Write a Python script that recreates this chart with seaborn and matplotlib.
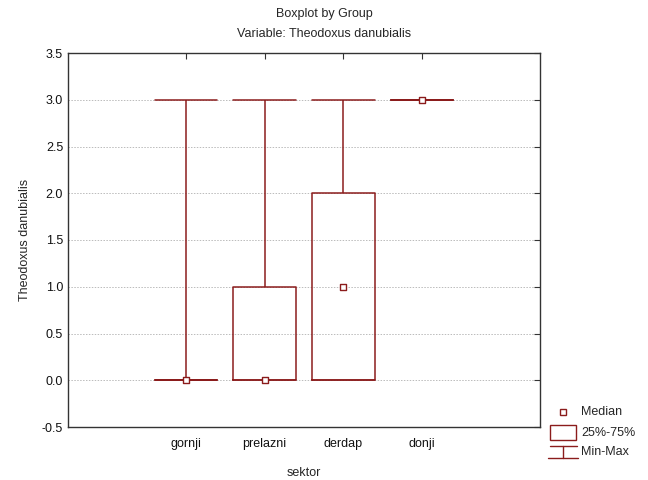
"""Boxplot by group (Statistica style) for Theodoxus danubialis by sektor."""
import matplotlib

matplotlib.use("Agg")
import matplotlib.pyplot as plt
import numpy as np
import pandas as pd
import seaborn as sns
from matplotlib.lines import Line2D
from matplotlib.patches import Rectangle

# observations per sector (chosen so that quartiles / min / max match the chart)
sektori = ["gornji", "prelazni", "derdap", "donji"]
gornji = [0, 0, 0, 0, 0, 0, 3]
prelazni = [0, 0, 0, 0, 1, 1, 3]
derdap = [0, 0, 0, 1, 2, 2, 3]
donji = [3, 3, 3, 3, 3, 3, 3]

yticks = [-0.5, 0.0, 0.5, 1.0, 1.5, 2.0, 2.5, 3.0, 3.5]

RED = "#8b1c1c"
FRAME = "#333333"


def main():
    sns.set_style("white")
    plt.rcParams["font.family"] = ["Liberation Sans", "DejaVu Sans"]
    plt.rcParams["font.size"] = 9

    df = pd.DataFrame({
        "sektor": np.repeat(sektori, 7),
        "value": gornji + prelazni + derdap + donji,
    })
    medians = df.groupby("sektor", sort=False)["value"].median().reset_index()

    fig = plt.figure(figsize=(6.48, 4.8), dpi=100)
    ax = fig.add_axes([68 / 648, 1 - 427 / 480, 472 / 648, 374 / 480])

    sns.boxplot(
        data=df, x="sektor", y="value", order=sektori, ax=ax,
        whis=(0, 100), width=0.8, fill=False, color=RED, saturation=1,
        linewidth=1.1, capwidths=0.8, showfliers=False,
        medianprops=dict(linewidth=0),
    )
    sns.scatterplot(
        data=medians, x="sektor", y="value", ax=ax, marker="s", s=22,
        facecolor="white", edgecolor=RED, linewidth=1.0, zorder=5,
    )

    ax.set_xlim(-1.5, 4.5)
    ax.set_ylim(-0.5, 3.5)
    ax.set_yticks(yticks, [f"{t:.1f}" for t in yticks])
    ax.grid(axis="y", color="#bbbbbb", linestyle=(0, (1.5, 1.5)), linewidth=0.7)
    ax.set_axisbelow(True)
    ax.tick_params(direction="in", length=4, top=True, right=True,
                   color=FRAME, labelsize=9, labelcolor="#111111")
    ax.tick_params(axis="x", pad=8)
    for s in ax.spines.values():
        s.set_color(FRAME)
        s.set_linewidth(1.0)

    ax.set_xlabel("sektor", fontsize=9, labelpad=12)
    ax.set_ylabel("Theodoxus danubialis", fontsize=9, labelpad=8)
    fig.text(0.5, 1 - 14 / 480, "Boxplot by Group", ha="center", va="center",
             fontsize=9)
    fig.text(0.5, 1 - 34 / 480, "Variable: Theodoxus danubialis",
             ha="center", va="center", fontsize=9)

    # legend drawn in figure coords
    W, H = 648, 480

    def fx(x):
        return x / W

    def fy(y):
        return 1 - y / H

    fig.add_artist(Line2D([fx(563)], [fy(412)], marker="s", markersize=4.5,
                          markerfacecolor="white", markeredgecolor=RED,
                          markeredgewidth=1.0, linestyle="none"))
    fig.add_artist(Rectangle((fx(550), fy(440)), fx(26), 15 / H,
                             facecolor="white", edgecolor=RED, linewidth=1.0))
    fig.add_artist(Line2D([fx(550), fx(577)], [fy(446), fy(446)],
                          color=RED, linewidth=1.0))
    fig.add_artist(Line2D([fx(563), fx(563)], [fy(446), fy(458)],
                          color=RED, linewidth=1.0))
    fig.add_artist(Line2D([fx(548), fx(578)], [fy(458), fy(458)],
                          color=RED, linewidth=1.0))
    fig.text(fx(581), fy(412), "Median", va="center", fontsize=9)
    fig.text(fx(581), fy(433), "25%-75%", va="center", fontsize=9)
    fig.text(fx(581), fy(452), "Min-Max", va="center", fontsize=9)

    fig.savefig("out.png", dpi=100)
    return 0


if __name__ == "__main__":
    raise SystemExit(main())
